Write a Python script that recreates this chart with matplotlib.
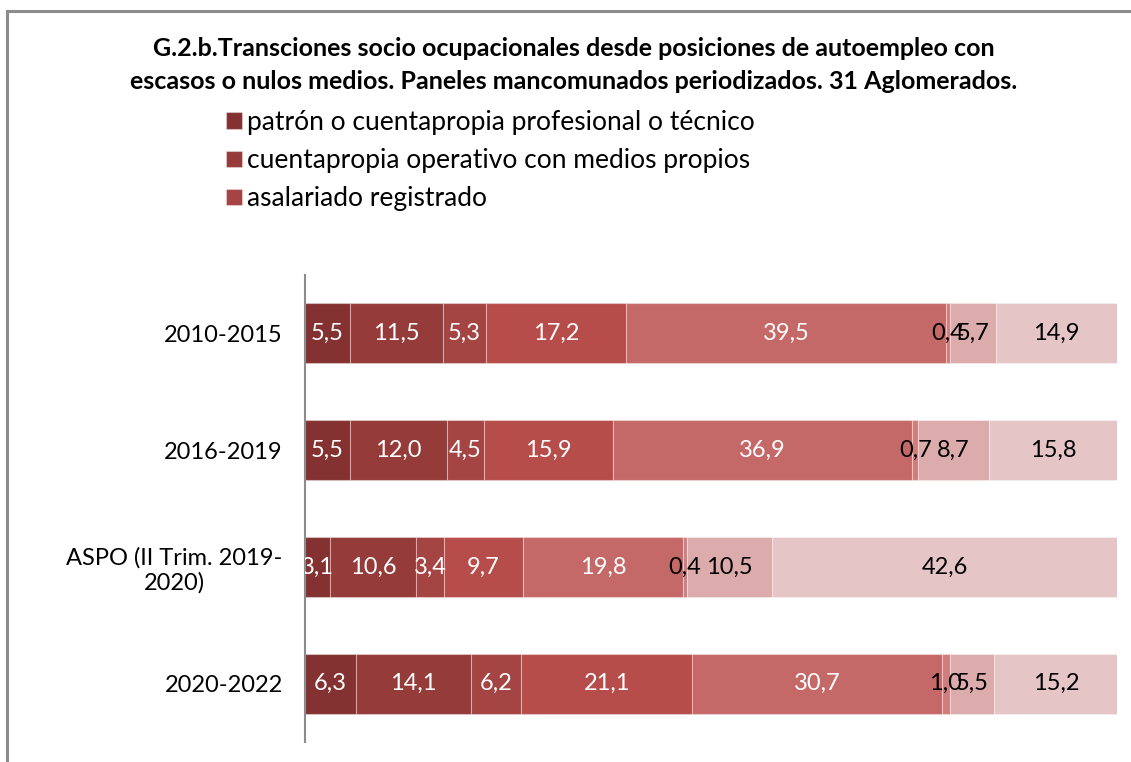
import matplotlib
matplotlib.use("Agg")
import matplotlib.pyplot as plt
from matplotlib.patches import Rectangle
import numpy as np

categories = ["2010-2015", "2016-2019", "ASPO (II Trim. 2019-\n2020)", "2020-2022"]
series_names = [
    "patrón o cuentapropia profesional o técnico",
    "cuentapropia operativo con medios propios",
    "asalariado registrado",
    "asalariado no registrado",
    "cuentapropia con escasos o nulos medios",
    "servicio doméstico",
    "desocupado",
    "inactivo",
]
values = [
    [5.5, 5.5, 3.1, 6.3],
    [11.5, 12.0, 10.6, 14.1],
    [5.3, 4.5, 3.4, 6.2],
    [17.2, 15.9, 9.7, 21.1],
    [39.5, 36.9, 19.8, 30.7],
    [0.4, 0.7, 0.4, 1.0],
    [5.7, 8.7, 10.5, 5.5],
    [14.9, 15.8, 42.6, 15.2],
]
title = ("G.2.b.Transciones socio ocupacionales desde posiciones de autoempleo con\n"
         "escasos o nulos medios. Paneles mancomunados periodizados. 31 Aglomerados.")

colors = ["#843231", "#953B3A", "#A44443", "#B74D4B", "#C56968", "#CF7E7D", "#DCABAB", "#E6C5C6"]
label_colors = ["white"] * 5 + ["black"] * 3

plt.rcParams['font.family'] = ['Lato', 'DejaVu Sans']

W, H = 1131, 762
fig = plt.figure(figsize=(W / 100, H / 100), dpi=100)

# outer border (left and top visible)
fig.patches.append(Rectangle((7 / W, -0.1), 1.2, 1 - 11 / H + 0.1, transform=fig.transFigure,
                             fill=False, edgecolor="#8c8c8c", linewidth=2.2))

ax = fig.add_axes([305 / W, 1 - 742 / H, (1117 - 305) / W, (742 - 275) / H])
y = np.arange(len(categories))
left = np.zeros(len(categories))
containers = []
for i, (name, vals) in enumerate(zip(series_names, values)):
    vals = np.array(vals)
    bc = ax.barh(y, vals, left=left, height=0.513, color=colors[i], label=name,
                 edgecolor=(1, 1, 1, 0.35), linewidth=0.8)
    containers.append(bc)
    for yy, l, v in zip(y, left, vals):
        ax.text(l + v / 2, yy, f"{v:.1f}".replace(".", ","), ha="center", va="center",
                color=label_colors[i], fontsize=17, clip_on=True)
    left = left + vals

ax.set_xlim(0, 100)
ax.set_ylim(3.5, -0.5)
ax.set_yticks(y)
ax.set_yticklabels(categories, fontsize=17, multialignment="center")
ax.tick_params(axis="y", length=0, pad=16)
ax.set_xticks([])
for s in ["top", "right", "bottom"]:
    ax.spines[s].set_visible(False)
ax.spines["left"].set_color("#8c8c8c")
ax.spines["left"].set_linewidth(1.5)

fig.text(574 / W, 1 - 65 / H, title, ha="center", va="center", fontsize=18,
         fontweight="bold", linespacing=1.5)

fig.legend(handles=containers[:3], labels=series_names[:3], loc="upper left",
           bbox_to_anchor=(226 / W, 1 - 110 / H), frameon=False, fontsize=19,
           handlelength=0.6, handleheight=0.6, handletextpad=0.2, labelspacing=0.5,
           borderaxespad=0, borderpad=0)

fig.savefig("out.png", dpi=100)
